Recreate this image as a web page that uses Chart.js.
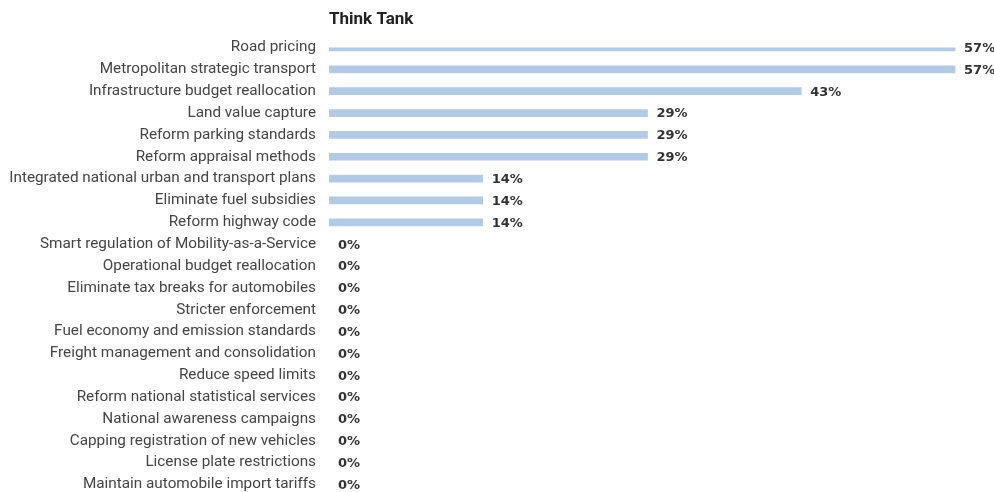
<!DOCTYPE html>
<html>
<head>
<meta charset="utf-8">
<script src="https://cdn.jsdelivr.net/npm/chart.js@4.4.1/dist/chart.umd.min.js"></script>
<style>
  html, body { margin: 0; padding: 0; background: #ffffff; }
  #wrap { width: 994px; height: 492px; position: relative; }
</style>
</head>
<body>
<div id="wrap"><canvas id="chart"></canvas></div>
<script>
// Policy measures and the share of think tank respondents selecting each
const chartTitle = 'Think Tank';
const measures = [
  'Road pricing',
  'Metropolitan strategic transport',
  'Infrastructure budget reallocation',
  'Land value capture',
  'Reform parking standards',
  'Reform appraisal methods',
  'Integrated national urban and transport plans',
  'Eliminate fuel subsidies',
  'Reform highway code',
  'Smart regulation of Mobility-as-a-Service',
  'Operational budget reallocation',
  'Eliminate tax breaks for automobiles',
  'Stricter enforcement',
  'Fuel economy and emission standards',
  'Freight management and consolidation',
  'Reduce speed limits',
  'Reform national statistical services',
  'National awareness campaigns',
  'Capping registration of new vehicles',
  'License plate restrictions',
  'Maintain automobile import tariffs'
];
const shares = [57, 57, 43, 29, 29, 29, 14, 14, 14, 0, 0, 0, 0, 0, 0, 0, 0, 0, 0, 0, 0];

// Bold percentage labels to the right of each bar
const valueLabels = {
  id: 'valueLabels',
  afterDatasetsDraw(chart) {
    const ctx = chart.ctx;
    const meta = chart.getDatasetMeta(0);
    ctx.save();
    ctx.font = 'bold 13px "DejaVu Sans"';
    ctx.fillStyle = '#333333';
    ctx.textAlign = 'left';
    ctx.textBaseline = 'middle';
    meta.data.forEach((bar, i) => {
      ctx.fillText(shares[i] + '%', bar.x + 9, bar.y + 1);
    });
    ctx.restore();
  }
};

// Heading aligned with the start of the bars
const heading = {
  id: 'heading',
  afterDraw(chart) {
    const ctx = chart.ctx;
    ctx.save();
    ctx.font = 'bold 17px Roboto';
    ctx.fillStyle = '#222222';
    ctx.textAlign = 'left';
    ctx.textBaseline = 'alphabetic';
    ctx.fillText(chartTitle, chart.chartArea.left, 24);
    ctx.restore();
  }
};

new Chart(document.getElementById('chart'), {
  type: 'bar',
  data: {
    labels: measures,
    datasets: [{
      data: shares,
      // zero-length bars stay invisible instead of leaving a hairline
      backgroundColor: (c) => (shares[c.dataIndex] > 0 ? '#b3cae5' : 'rgba(0,0,0,0)'),
      borderWidth: 0,
      barThickness: 7
    }]
  },
  options: {
    indexAxis: 'y',
    responsive: true,
    maintainAspectRatio: false,
    animation: false,
    layout: { padding: { top: 47.5, bottom: 7.5, left: 0, right: 6 } },
    plugins: {
      legend: { display: false },
      tooltip: { enabled: false }
    },
    scales: {
      x: {
        display: false,
        min: 0,
        max: 60
      },
      y: {
        offset: false,
        grid: { display: false, drawTicks: false },
        border: { display: false },
        ticks: {
          color: '#444444',
          font: { family: 'Roboto', size: 15.3 },
          padding: 13,
          autoSkip: false
        },
        afterFit(axis) {
          axis.width = 329;
          axis.paddingTop = 0;
          axis.paddingBottom = 0;
        }
      }
    }
  },
  plugins: [valueLabels, heading]
});
</script>
</body>
</html>
